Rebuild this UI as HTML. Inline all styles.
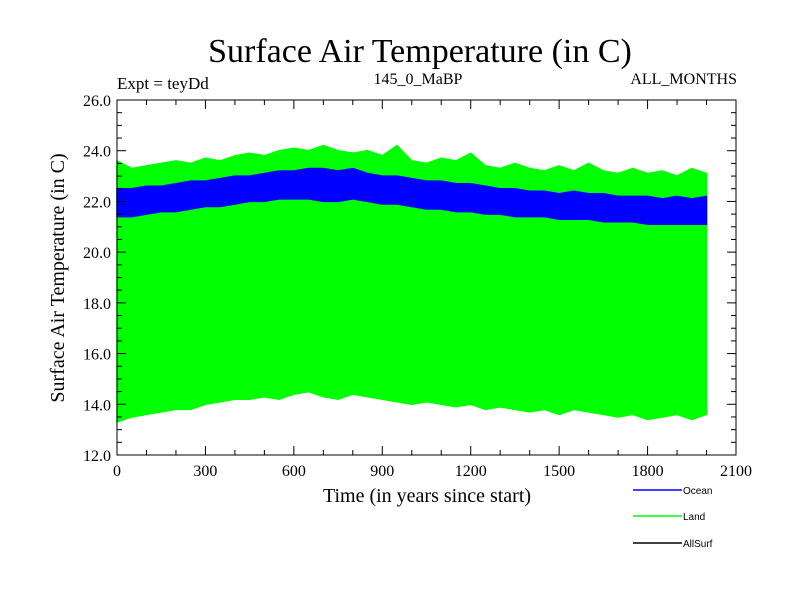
<!DOCTYPE html>
<html><head><meta charset="utf-8"><style>
body{margin:0;background:#fff}
svg text{font-family:"Liberation Serif",serif}
</style></head><body>
<svg id="c" width="800" height="600" xmlns="http://www.w3.org/2000/svg">
<rect width="800" height="600" fill="#fff"/>
<text x="420" y="62" font-size="34" text-anchor="middle">Surface Air Temperature (in C)</text>
<text x="117" y="89" font-size="17">Expt = teyDd</text>
<text x="418" y="84" font-size="16" text-anchor="middle">145_0_MaBP</text>
<text x="737" y="84" font-size="16" text-anchor="end">ALL_MONTHS</text>
<g id="series"></g>
<g id="axes"></g>
<text x="427" y="502" font-size="20" text-anchor="middle">Time (in years since start)</text>
<text transform="translate(64,278) rotate(-90)" font-size="20" text-anchor="middle">Surface Air Temperature (in C)</text>
<g font-family="Liberation Sans,sans-serif" font-size="10">
<g><line x1="633" y1="490" x2="682" y2="490" stroke="#0000ff" stroke-width="1.5"/><text x="683" y="494" style="font-family:'Liberation Sans',sans-serif">Ocean</text></g>
<g><line x1="633" y1="516" x2="682" y2="516" stroke="#00ff00" stroke-width="1.5"/><text x="683" y="520" style="font-family:'Liberation Sans',sans-serif">Land</text></g>
<g><line x1="633" y1="543" x2="682" y2="543" stroke="#000" stroke-width="1.5"/><text x="683" y="547" style="font-family:'Liberation Sans',sans-serif">AllSurf</text></g>
</g>
</svg>
<script>
const years=[0,50,100,150,200,250,300,350,400,450,500,550,600,650,700,750,800,850,900,950,1000,1050,1100,1150,1200,1250,1300,1350,1400,1450,1500,1550,1600,1650,1700,1750,1800,1850,1900,1950,2000];
const landMax=[23.6,23.3,23.4,23.5,23.6,23.5,23.7,23.6,23.8,23.9,23.8,24.0,24.1,24.0,24.2,24.0,23.9,24.0,23.8,24.2,23.6,23.5,23.7,23.6,23.9,23.4,23.3,23.5,23.3,23.2,23.4,23.2,23.5,23.2,23.1,23.3,23.1,23.2,23.0,23.3,23.1];
const landMin=[13.3,13.5,13.6,13.7,13.8,13.8,14.0,14.1,14.2,14.2,14.3,14.2,14.4,14.5,14.3,14.2,14.4,14.3,14.2,14.1,14.0,14.1,14.0,13.9,14.0,13.8,13.9,13.8,13.7,13.8,13.6,13.8,13.7,13.6,13.5,13.6,13.4,13.5,13.6,13.4,13.6];
const oceanMax=[22.5,22.5,22.6,22.6,22.7,22.8,22.8,22.9,23.0,23.0,23.1,23.2,23.2,23.3,23.3,23.2,23.3,23.1,23.0,23.0,22.9,22.8,22.8,22.7,22.7,22.6,22.5,22.5,22.4,22.4,22.3,22.4,22.3,22.3,22.2,22.2,22.2,22.1,22.2,22.1,22.2];
const oceanMin=[21.4,21.4,21.5,21.6,21.6,21.7,21.8,21.8,21.9,22.0,22.0,22.1,22.1,22.1,22.0,22.0,22.1,22.0,21.9,21.9,21.8,21.7,21.7,21.6,21.6,21.5,21.5,21.4,21.4,21.4,21.3,21.3,21.3,21.2,21.2,21.2,21.1,21.1,21.1,21.1,21.1];
const xTicks=[0,300,600,900,1200,1500,1800,2100];
const yTicks=[12.0,14.0,16.0,18.0,20.0,22.0,24.0,26.0];
const L=117,R=736,T=100,B=455,X0=0,X1=2100,Y0=12,Y1=26;
const sx=v=>L+(v-X0)/(X1-X0)*(R-L);
const sy=v=>B-(v-Y0)/(Y1-Y0)*(B-T);
const NS="http://www.w3.org/2000/svg";
function mk(tag,attrs,parent){const e=document.createElementNS(NS,tag);for(const k in attrs)e.setAttribute(k,attrs[k]);parent.appendChild(e);return e;}
const sg=document.getElementById('series'),ag=document.getElementById('axes');
function band(up,lo,color,name){
  let d='';
  years.forEach((t,i)=>{d+=(i?'L':'M')+sx(t).toFixed(1)+','+sy(up[i]).toFixed(1);});
  for(let i=years.length-1;i>=0;i--)d+='L'+sx(years[i]).toFixed(1)+','+sy(lo[i]).toFixed(1);
  const p=mk('path',{d:d+'Z',fill:color,stroke:color,'stroke-width':1.5},sg);
  
  
}
band(landMax,landMin,'#00ff00','land-band');
band(oceanMax,oceanMin,'#0000ff','ocean-band');
const fr=mk('rect',{x:L,y:T,width:R-L,height:B-T,fill:'none',stroke:'#000','stroke-width':1},ag);


for(let v=X0;v<=X1;v+=100){
  const maj=v%300===0,len=maj?9:5,x=sx(v);
  mk('line',{x1:x,y1:B,x2:x,y2:B-len,stroke:'#000'},ag);
  mk('line',{x1:x,y1:T,x2:x,y2:T+len,stroke:'#000'},ag);
}
for(let v=Y0;v<=Y1+0.001;v+=0.5){
  const maj=Math.abs(v%2)<0.01,len=maj?9:5,y=sy(v);
  mk('line',{x1:L,y1:y,x2:L+len,y2:y,stroke:'#000'},ag);
  mk('line',{x1:R,y1:y,x2:R-len,y2:y,stroke:'#000'},ag);
}
xTicks.forEach(v=>{const t=mk('text',{x:sx(v),y:B+21,'font-size':16,'text-anchor':'middle'},ag);t.textContent=v;

});
yTicks.forEach(v=>{const t=mk('text',{x:L-6,y:sy(v)+6,'font-size':16,'text-anchor':'end'},ag);t.textContent=v.toFixed(1);

});
</script>
</body></html>
